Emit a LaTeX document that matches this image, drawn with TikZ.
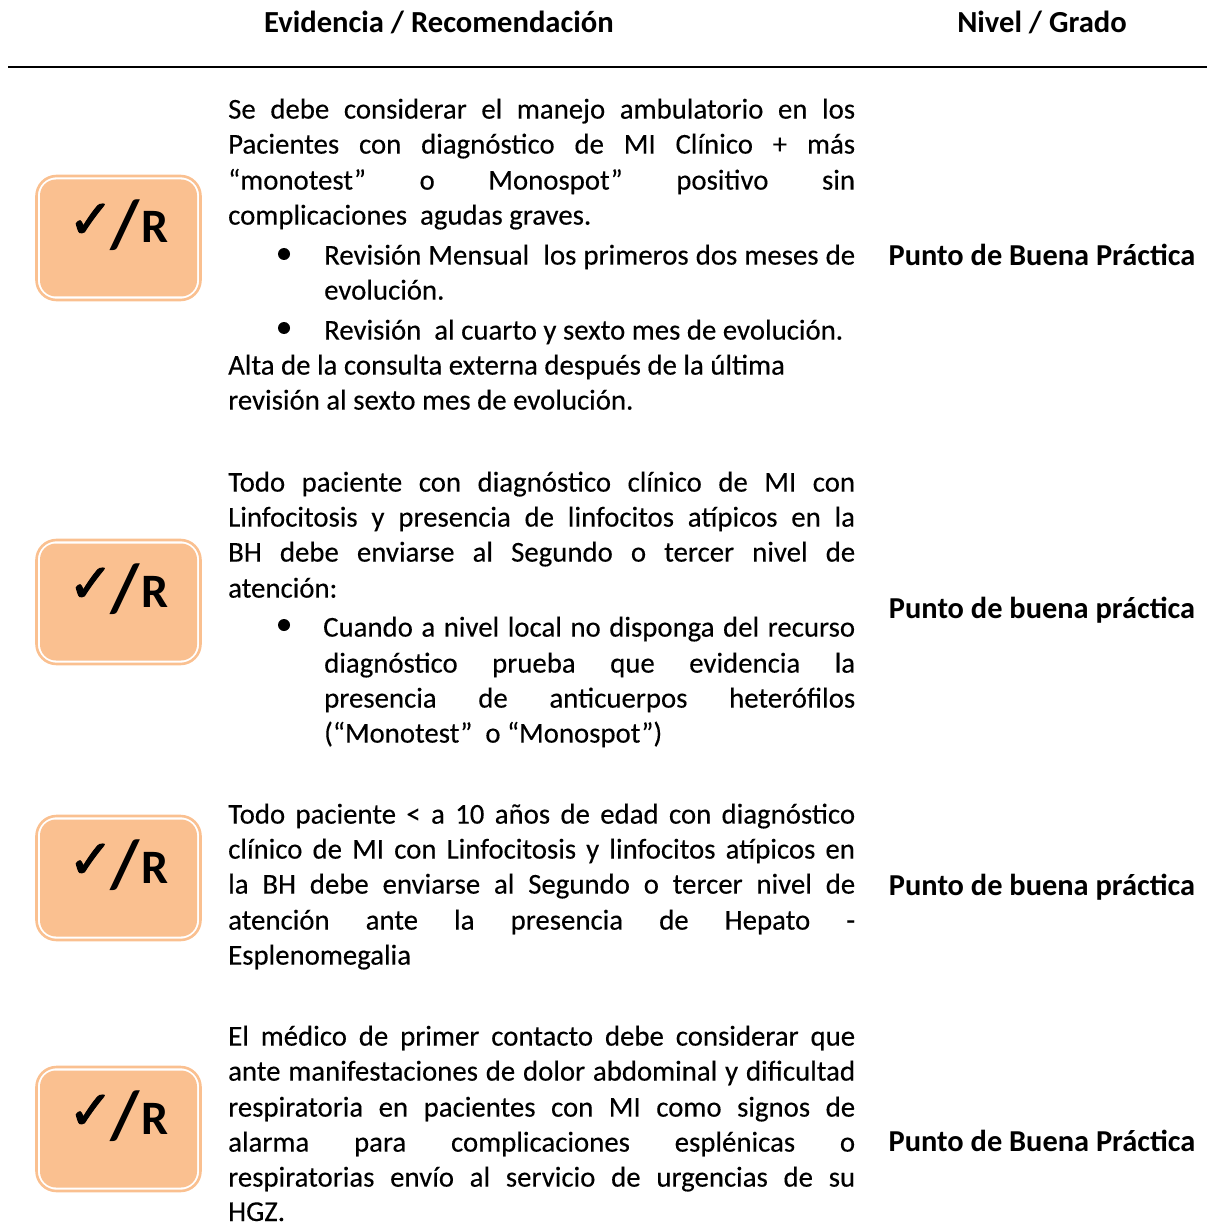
\documentclass[tikz,border=0pt]{standalone}
\usepackage{fontspec}
\setmainfont{Carlito}
\newfontfamily\chk[FakeBold=2]{DejaVu Sans}
\newfontfamily\bodyf[FakeBold=0.25]{Carlito}
\definecolor{boxor}{HTML}{FAC090}
\newcommand{\sz}{\bodyf\fontsize{28.8}{33}\selectfont}
\tikzset{
 x=1pt,y=-1pt,
 txt/.style={anchor=base west,inner sep=0pt,yshift=-0.6pt,font=\sz},
 head/.style={anchor=base,inner sep=0pt,font=\fontsize{30.6}{33}\selectfont\bfseries},
 lvl/.style={anchor=base,inner sep=0pt,font=\fontsize{30.4}{33}\selectfont\bfseries},
 bul/.style={circle,fill=black,inner sep=0pt,minimum size=12pt},
 okbox/.style={draw=boxor,line width=2.6pt,rounded corners=20pt,minimum width=164pt,minimum height=124pt,fill=white,inner sep=0pt},
 okin/.style={fill=boxor,rounded corners=16pt,minimum width=157pt,minimum height=117pt,inner sep=0pt},
 oklab/.style={anchor=base west,inner sep=0pt,font=\fontsize{44}{50}\selectfont},
}
% name, x, baseline y, width, text
\newcommand{\jl}[5]{\node[txt] (#1) at (#2,#3) {\makebox[#4pt][s]{#5}};}
\newcommand{\pl}[4]{\node[txt] (#1) at (#2,#3) {#4};}
\newcommand{\okb}[2]{%
 \node[okbox] (#1) at (118.5,#2) {};
 \node[okin] (#1in) at (118.5,#2) {};
 \node[oklab] (#1lab) at (68,#2+5) {\raisebox{5pt}{\chk\fontsize{54}{60}\selectfont ✓}\hspace{-3pt}\raisebox{-4.5pt}{\fontsize{68}{68}\selectfont\bfseries/}\fontsize{48}{50}\selectfont\bfseries\hspace{2pt}R};}
\begin{document}
\begin{tikzpicture}
\useasboundingbox (0,0) rectangle (1207,1222);
\node[head] (h1) at (439,33) {Evidencia / Recomendación};
\node[head] (h2) at (1042,33) {Nivel / Grado};
\coordinate (ruleL) at (8,67);
\coordinate (ruleR) at (1207,67);
\draw[line width=2pt] (ruleL) -- (ruleR);

\okb{b1}{238}
\okb{b2}{602}
\okb{b3}{878}
\okb{b4}{1129}

\jl{a1}{228}{118}{627}{Se debe considerar el manejo ambulatorio en los}
\jl{a2}{228}{153}{627}{Pacientes con diagnóstico de MI Clínico + más}
\jl{a3}{228}{189}{627}{“monotest” o Monospot” positivo sin}
\pl{a4}{228}{224}{complicaciones~ agudas graves.}
\node[bul] (ba1) at (284,254) {};
\jl{a5}{324}{264}{531}{Revisión Mensual~ los primeros dos meses de}
\pl{a6}{324}{299}{evolución.}
\node[bul] (ba2) at (284,328) {};
\pl{a7}{324}{339}{Revisión~ al cuarto y sexto mes de evolución.}
\pl{a8}{228}{374}{Alta de la consulta externa después de la última}
\pl{a9}{228}{409}{revisión al sexto mes de evolución.}

\jl{c1}{228}{491}{627}{Todo paciente con diagnóstico clínico de MI con}
\jl{c2}{228}{526}{627}{Linfocitosis y presencia de linfocitos atípicos en la}
\jl{c3}{228}{561}{627}{BH debe enviarse al Segundo o tercer nivel de}
\pl{c4}{228}{597}{atención:}
\node[bul] (bc1) at (284,625) {};
\jl{c5}{323}{636}{532}{Cuando a nivel local no disponga del recurso}
\jl{c6}{324}{672}{531}{diagnóstico prueba que evidencia la}
\jl{c7}{324}{707}{531}{presencia de anticuerpos heterófilos}
\pl{c8}{324}{742}{(“Monotest”~ o “Monospot”)}

\jl{d1}{228}{823}{627}{Todo paciente < a 10 años de edad con diagnóstico}
\jl{d2}{228}{858}{627}{clínico de MI con Linfocitosis y linfocitos atípicos en}
\jl{d3}{228}{893}{627}{la BH debe enviarse al Segundo o tercer nivel de}
\jl{d4}{228}{929}{627}{atención ante la presencia de Hepato -}
\pl{d5}{228}{964}{Esplenomegalia}

\jl{e1}{228}{1045}{627}{El médico de primer contacto debe considerar que}
\jl{e2}{228}{1080}{627}{ante manifestaciones de dolor abdominal y dificultad}
\jl{e3}{228}{1116}{627}{respiratoria en pacientes con MI como signos de}
\jl{e4}{228}{1151}{627}{alarma para complicaciones esplénicas o}
\jl{e5}{228}{1186}{627}{respiratorias envío al servicio de urgencias de su}
\pl{e6}{228}{1220.4}{HGZ.}

\node[lvl] (n1) at (1042,266) {Punto de Buena Práctica};
\node[lvl] (n2) at (1042,618) {Punto de buena práctica};
\node[lvl] (n3) at (1042,895) {Punto de buena práctica};
\node[lvl] (n4) at (1042,1151) {Punto de Buena Práctica};
\end{tikzpicture}
\end{document}
